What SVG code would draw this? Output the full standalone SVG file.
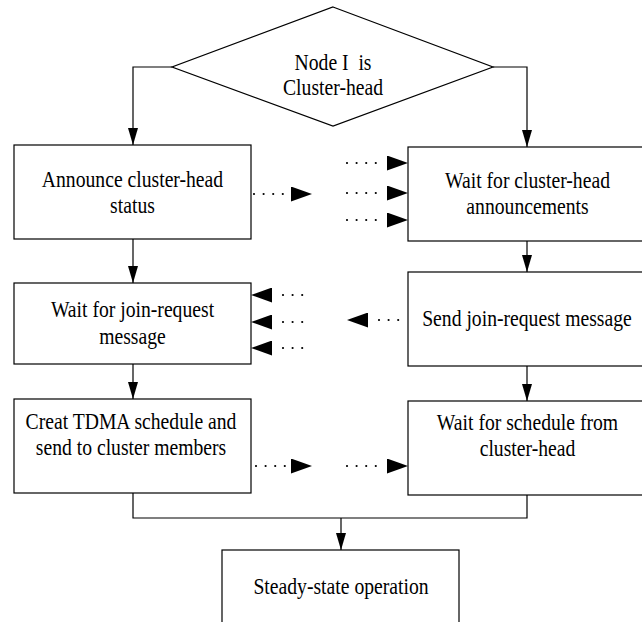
<svg xmlns="http://www.w3.org/2000/svg" width="642" height="622" viewBox="0 0 642 622">
<style>
.box{fill:#fff;stroke:#000;stroke-width:1.2}
.ln{fill:none;stroke:#000;stroke-width:1.2}
.dot{fill:none;stroke:#000;stroke-width:2.2;stroke-linecap:round;stroke-dasharray:0 9.6}
.head{fill:none;stroke:none}
text{font-family:"Liberation Serif","Times New Roman",serif;font-size:22.6px;fill:#000;text-anchor:middle}
</style>
<defs>
<marker id="sa" viewBox="0 0 17 10" refX="17" refY="5" markerWidth="17" markerHeight="10" markerUnits="userSpaceOnUse" orient="auto"><path d="M0,0 L17,5 L0,10 z" fill="#000"/></marker>
<marker id="ba" viewBox="0 0 21 15" refX="21" refY="7.5" markerWidth="21" markerHeight="15" markerUnits="userSpaceOnUse" orient="auto"><path d="M0,0 L21,7.5 L0,15 z" fill="#000"/></marker>
</defs>

<g id="connectors">
<path class="ln" d="M172,67 H133 V145" marker-end="url(#sa)"/>
<path class="ln" d="M493,67 H527 V147" marker-end="url(#sa)"/>
<path class="ln" d="M133,239 V283" marker-end="url(#sa)"/>
<path class="ln" d="M527,241 V272" marker-end="url(#sa)"/>
<path class="ln" d="M133,364 V399" marker-end="url(#sa)"/>
<path class="ln" d="M527,366 V401" marker-end="url(#sa)"/>
<path class="ln" d="M133,493 V518 H527 V495"/>
<path class="ln" d="M341,518 V550" marker-end="url(#sa)"/>

<path class="dot" d="M254,194 H284"/>
<path class="head" d="M290,194 H312" marker-end="url(#ba)"/>
<path class="dot" d="M347,163 H377"/>
<path class="head" d="M385,163 H408" marker-end="url(#ba)"/>
<path class="dot" d="M347,193 H377"/>
<path class="head" d="M385,193 H408" marker-end="url(#ba)"/>
<path class="dot" d="M347,220 H377"/>
<path class="head" d="M385,220 H408" marker-end="url(#ba)"/>

<path class="dot" d="M283,295 H309"/>
<path class="head" d="M275,295 H251" marker-end="url(#ba)"/>
<path class="dot" d="M283,322 H309"/>
<path class="head" d="M275,322 H251" marker-end="url(#ba)"/>
<path class="dot" d="M283,348 H309"/>
<path class="head" d="M275,348 H251" marker-end="url(#ba)"/>
<path class="dot" d="M379,320 H405"/>
<path class="head" d="M370,320 H347" marker-end="url(#ba)"/>

<path class="dot" d="M256,466 H286"/>
<path class="head" d="M290,466 H312" marker-end="url(#ba)"/>
<path class="dot" d="M347,466 H377"/>
<path class="head" d="M385,466 H408" marker-end="url(#ba)"/>
</g>

<g id="decision">
<polygon class="box" points="333,7 493,67 333,126 172,67"/>
<text transform="scale(0.87,1)" x="382.8" y="70">Node I&#160; is</text>
<text transform="scale(0.87,1)" x="382.8" y="95">Cluster-head</text>
</g>

<g id="announce">
<rect class="box" x="14" y="145" width="237" height="94"/>
<text transform="scale(0.87,1)" x="152.3" y="187">Announce cluster-head</text>
<text transform="scale(0.87,1)" x="152.3" y="213">status</text>
</g>

<g id="wait-announce">
<rect class="box" x="408" y="147" width="250" height="94"/>
<text transform="scale(0.87,1)" x="606.3" y="188">Wait for cluster-head</text>
<text transform="scale(0.87,1)" x="606.3" y="214">announcements</text>
</g>

<g id="wait-join">
<rect class="box" x="14" y="283" width="237" height="81"/>
<text transform="scale(0.87,1)" x="152.3" y="317">Wait for join-request</text>
<text transform="scale(0.87,1)" x="152.3" y="344">message</text>
</g>

<g id="send-join">
<rect class="box" x="408" y="272" width="250" height="94"/>
<text transform="scale(0.87,1)" x="605.7" y="326">Send join-request message</text>
</g>

<g id="create-tdma">
<rect class="box" x="14" y="399" width="237" height="94"/>
<text transform="scale(0.87,1)" x="150.6" y="429">Creat TDMA schedule and</text>
<text transform="scale(0.87,1)" x="150.6" y="455">send to cluster members</text>
</g>

<g id="wait-schedule">
<rect class="box" x="408" y="401" width="250" height="94"/>
<text transform="scale(0.87,1)" x="606.3" y="430">Wait for schedule from</text>
<text transform="scale(0.87,1)" x="606.3" y="456">cluster-head</text>
</g>

<g id="steady">
<rect class="box" x="222" y="550" width="237" height="90"/>
<text transform="scale(0.87,1)" x="392" y="594">Steady-state operation</text>
</g>
</svg>
